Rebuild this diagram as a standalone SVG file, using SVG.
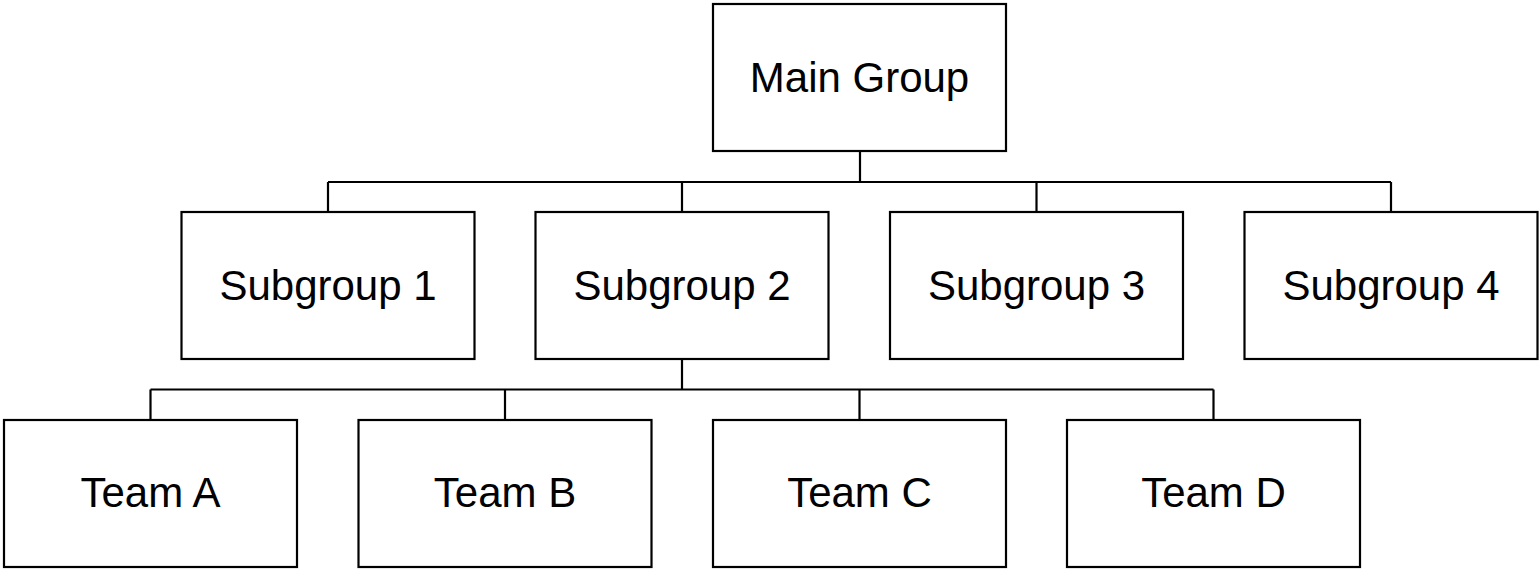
<svg xmlns="http://www.w3.org/2000/svg" width="1539" height="569" viewBox="0 0 1539 569">
<style>
.box{fill:#fff;stroke:#000;stroke-width:2.2}
.lbl{font-family:"Liberation Sans",Arial,sans-serif;font-size:42px;fill:#000;text-anchor:middle}
.con{fill:none;stroke:#000;stroke-width:2.2}
</style>
<rect width="1539" height="569" fill="#fff"/>
<g id="connectors">
<path class="con" d="M860,151V182M328,182H1391M328,182V212M682,182V212M1036.5,182V212M1391,182V212"/>
<path class="con" d="M682,359V389.5M150.5,389.5H1213.5M150.5,389.5V420M505,389.5V420M859.5,389.5V420M1213.5,389.5V420"/>
</g>
<g id="main"><rect class="box" x="713" y="4" width="293" height="147"/><text class="lbl" x="859.5" y="92">Main Group</text></g>
<g id="sub1"><rect class="box" x="181.5" y="212" width="293" height="147"/><text class="lbl" x="328" y="300">Subgroup 1</text></g>
<g id="sub2"><rect class="box" x="535.5" y="212" width="293" height="147"/><text class="lbl" x="682" y="300">Subgroup 2</text></g>
<g id="sub3"><rect class="box" x="890" y="212" width="293" height="147"/><text class="lbl" x="1036.5" y="300">Subgroup 3</text></g>
<g id="sub4"><rect class="box" x="1244.5" y="212" width="293" height="147"/><text class="lbl" x="1391" y="300">Subgroup 4</text></g>
<g id="teamA"><rect class="box" x="4" y="420" width="293" height="147"/><text class="lbl" x="150.5" y="507">Team A</text></g>
<g id="teamB"><rect class="box" x="358.5" y="420" width="293" height="147"/><text class="lbl" x="505" y="507">Team B</text></g>
<g id="teamC"><rect class="box" x="713" y="420" width="293" height="147"/><text class="lbl" x="859.5" y="507">Team C</text></g>
<g id="teamD"><rect class="box" x="1067" y="420" width="293" height="147"/><text class="lbl" x="1213.5" y="507">Team D</text></g>
</svg>
